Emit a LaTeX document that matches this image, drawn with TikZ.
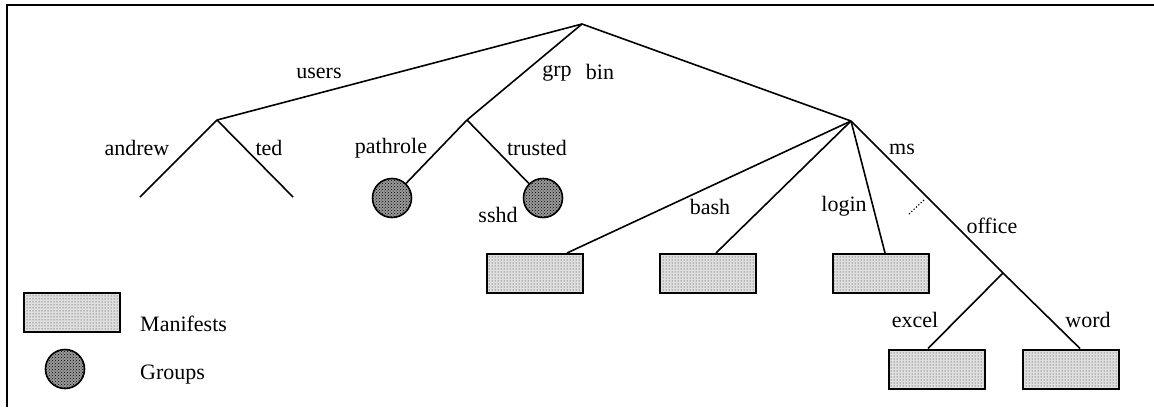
\documentclass[tikz,border=0pt]{standalone}
\usepackage{fontspec}
\setmainfont{Liberation Serif}
\usetikzlibrary{patterns}
\begin{document}
\begin{tikzpicture}[x=1pt,y=-1pt,
  edge/.style={line width=1.6pt},
  lbl/.style={font=\fontsize{22}{24}\selectfont, inner sep=0pt},
  manifest/.style={draw, line width=2pt, rectangle, minimum width=96pt, minimum height=39pt, inner sep=0pt,
     fill=gray!25, postaction={pattern=dots, pattern color=black!85}},
  group/.style={draw, line width=1.6pt, circle, minimum size=39pt, inner sep=0pt,
     fill=gray!80, postaction={pattern=crosshatch dots, pattern color=black}}]
\useasboundingbox (0,0) rectangle (1154,407);
% frame
\draw[line width=2pt] (7,407) -- (7,5) -- (1154,5);
% junctions
\coordinate (root) at (582,24);
\coordinate (users) at (217,120);
\coordinate (grp) at (467,120);
\coordinate (bin) at (851,121);
\coordinate (office) at (1003,273);
\coordinate (andrewend) at (140,197);
\coordinate (tedend) at (293,197);
% leaves
\node[group] (pathrole) at (392,198) {};
\node[group] (trusted) at (543,198) {};
\node[manifest] (sshd) at (535,273.5) {};
\node[manifest] (bash) at (707.5,273.5) {};
\node[manifest] (login) at (881,273.5) {};
\node[manifest] (excel) at (936.5,369) {};
\node[manifest] (word) at (1070.5,369) {};
% edges
\draw[edge] (root) -- (users);
\draw[edge] (root) -- (grp);
\draw[edge] (root) -- (bin);
\draw[edge] (users) -- (andrewend);
\draw[edge] (users) -- (tedend);
\draw[edge] (grp) -- (pathrole);
\draw[edge] (grp) -- (trusted);
\draw[edge] (bin) -- ([xshift=32pt]sshd.north);
\draw[edge] (bin) -- ([xshift=8.5pt]bash.north);
\draw[edge] (bin) -- ([xshift=4pt]login.north);
\draw[edge] (bin) -- (office) -- ([xshift=9.5pt]word.north);
\draw[edge] (office) -- ([xshift=-8.5pt]excel.north);
\coordinate (dotA) at (909,214);
\coordinate (dotB) at (925,199);
\draw[line width=1.2pt, dotted] (dotA) -- (dotB);
% labels
\node[lbl] (lusers) at (319,73) {users};
\node[lbl] (lgrp) at (557,73) {grp};
\node[lbl] (lbin) at (600,72) {bin};
\node[lbl] (landrew) at (137,148) {andrew};
\node[lbl] (lted) at (269,148) {ted};
\node[lbl] (lpathrole) at (391,148) {pathrole};
\node[lbl] (ltrusted) at (537,148) {trusted};
\node[lbl] (lsshd) at (498,215) {sshd};
\node[lbl] (lbash) at (710,207) {bash};
\node[lbl] (llogin) at (844,206) {login};
\node[lbl] (lms) at (902,149) {ms};
\node[lbl] (loffice) at (992,226) {office};
\node[lbl] (lexcel) at (915,320) {excel};
\node[lbl] (lword) at (1088,320) {word};
% legend
\node[manifest] (legbox) at (72,312.5) {};
\node[group] (legcirc) at (65,369) {};
\node[lbl, anchor=west] (lman) at (140,324) {Manifests};
\node[lbl, anchor=west] (lgroups) at (140,375) {Groups};
\end{tikzpicture}
\end{document}
